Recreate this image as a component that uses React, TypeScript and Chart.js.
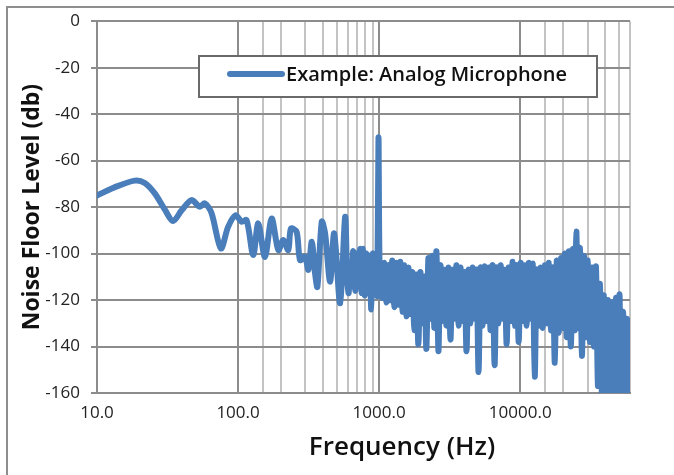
import React, { useEffect, useRef } from 'react';
import { Chart, registerables } from 'chart.js';

Chart.register(...registerables);

// ---- Data ----
const frequencyHz: number[] = [
  10, 13.3, 18.5, 21.8, 25.6, 30.2, 34.6, 39.7, 46.7, 53.5, 58.1, 64.8, 75.5, 85, 96,
  106, 115, 128, 139, 155, 173, 193, 209, 227, 237, 260, 275, 298, 315, 333,
  351, 365, 392, 414, 449, 480, 529, 574, 593, 608, 623, 639, 655, 676, 699,
  716, 734, 752, 771, 790, 810, 837, 858, 879, 901, 923, 946, 969, 989, 1010,
  1052, 1087, 1123, 1160, 1199, 1239, 1280, 1323, 1367, 1412, 1459, 1508, 1558, 1610, 1664,
  1719, 1776, 1835, 1896, 1959, 2025, 2092, 2162, 2234, 2308, 2385, 2464, 2546, 2631, 2719,
  2809, 2903, 3000, 3099, 3203, 3309, 3419, 3533, 3651, 3772, 3898, 4028, 4162, 4300, 4443,
  4591, 4744, 4902, 5065, 5234, 5408, 5588, 5774, 5966, 6165, 6370, 6582, 6801, 7028, 7262,
  7503, 7753, 8011, 8278, 8554, 8838, 9133, 9437, 9751, 10075, 10411, 10758, 11116, 11486, 11869,
  12264, 12672, 13094, 13530, 13981, 14446, 14927, 15424, 15938, 16469, 17017, 17584, 18169, 18774, 19399,
  20045, 20713, 21402, 22115, 22851, 23612, 24398, 25000, 25630, 26480, 27360, 28270, 29210, 30180, 31190,
  32230, 33300, 34410, 35560, 36740, 37960, 39230, 40540, 41890, 43280, 44720, 46210, 47750, 49340, 50550,
  51830, 53550, 55340, 57180, 59080, 60000,
];

const noiseFloorDb: number[] = [
  -75, -71.5, -68.6, -69.6, -74, -81, -86, -81.5, -77, -79.8, -78.4, -82.5, -97.8, -88.5, -83.5,
  -86.3, -85.6, -100.6, -87, -101.4, -84.9, -98.5, -94.2, -98.5, -89.2, -90.6, -102.8, -101.4, -107, -94.9,
  -108.4, -114.3, -86.3, -91.3, -112.1, -91.3, -121.4, -84.2, -110, -117, -104, -112, -99, -116, -100,
  -114, -98, -117, -98, -118, -100, -116, -101, -124, -100, -113, -104, -118, -50, -110,
  -119, -104, -121, -105, -120, -103, -123, -104, -122, -103.5, -125, -105, -127, -106, -126,
  -108, -133, -109, -139, -108, -130, -110, -141, -102, -128, -101, -132, -99, -142, -105,
  -129, -107, -131, -106, -137, -107, -128, -105, -131, -106, -129, -108, -142, -107, -130,
  -106, -128, -107, -151, -106, -131, -105.5, -129, -106, -133, -105, -148, -106, -130, -105,
  -128, -107, -139, -106, -129, -103.5, -131, -105, -138, -104, -129, -105, -131, -104, -128,
  -104.5, -153, -107, -131, -106, -132, -105, -130, -104, -133, -106, -147, -103, -134, -102,
  -132, -100, -136, -99, -140, -98, -133, -90.5, -132, -97.5, -144, -101, -136, -103, -138,
  -106, -140, -105.5, -157, -113, -162, -118, -165, -120, -165, -121, -165, -119, -165, -117.5,
  -165, -125, -165, -128, -165, -130,
];

const seriesName = 'Example: Analog Microphone';
const xAxisTitle = 'Frequency (Hz)';
const yAxisTitle = 'Noise Floor Level (db)';
const xMin = 10;
const xMax = 60000;
const yMin = -160;
const yMax = 0;
const yStep = 20;

const FONT = '"Open Sans", Lato, sans-serif';
const LINE_COLOR = '#4a7ebb';
const MAJOR_GRID = '#8c8c8c';
const MINOR_GRID = '#c3c3c3';

function isDecade(v: number): boolean {
  const l = Math.log10(v);
  return Math.abs(l - Math.round(l)) < 1e-9;
}

export default function App() {
  const ref = useRef<HTMLCanvasElement | null>(null);

  useEffect(() => {
    if (!ref.current) return;

    const decor = {
      id: 'decor',
      beforeDraw(chart: any) {
        const ctx = chart.ctx;
        ctx.save();
        ctx.fillStyle = '#ffffff';
        ctx.fillRect(0, 0, chart.width, chart.height);
        ctx.strokeStyle = '#8e8e8e';
        ctx.lineWidth = 2;
        ctx.strokeRect(7, 7, chart.width + 40, chart.height + 40);
        ctx.restore();
      },
      afterDraw(chart: any) {
        const ctx = chart.ctx;
        ctx.save();
        // legend box
        ctx.fillStyle = '#ffffff';
        ctx.fillRect(199, 56, 398, 41);
        ctx.strokeStyle = '#6a6a6a';
        ctx.lineWidth = 2;
        ctx.strokeRect(199, 56, 398, 41);
        ctx.strokeStyle = LINE_COLOR;
        ctx.lineWidth = 6;
        ctx.lineCap = 'round';
        ctx.beginPath();
        ctx.moveTo(230, 74);
        ctx.lineTo(282, 74);
        ctx.stroke();
        ctx.fillStyle = '#111111';
        ctx.font = `600 20px ${FONT}`;
        ctx.textAlign = 'left';
        ctx.textBaseline = 'middle';
        ctx.fillText(seriesName, 286, 75);
        // x axis title
        ctx.font = `600 26px ${FONT}`;
        ctx.textAlign = 'center';
        ctx.fillText(xAxisTitle, 402, 448);
        ctx.restore();
      },
    };

    const chart = new Chart(ref.current, {
      type: 'line',
      data: {
        datasets: [
          {
            label: seriesName,
            data: frequencyHz.map((f, i) => ({ x: f, y: noiseFloorDb[i] })),
            borderColor: LINE_COLOR,
            backgroundColor: LINE_COLOR,
            borderWidth: 6,
            pointRadius: 0,
            tension: 0.3,
            fill: false,
            borderCapStyle: 'round',
            borderJoinStyle: 'round',
          },
        ],
      },
      options: {
        animation: false,
        responsive: false,
        layout: { padding: { top: 21, right: 44, left: 0, bottom: 0 } },
        plugins: { legend: { display: false }, tooltip: { enabled: false } },
        scales: {
          x: {
            type: 'logarithmic',
            min: xMin,
            max: xMax,
            afterFit(s: any) {
              s.height = 82;
            },
            grid: {
              drawTicks: false,
              lineWidth: 2,
              color: (c: any) => {
                const v = c.tick ? c.tick.value : 0;
                if (isDecade(v)) return MAJOR_GRID;
                if ((v > 100 && v < 1000) || v > 10000) return MINOR_GRID;
                return 'rgba(0,0,0,0)';
              },
            },
            border: { color: MAJOR_GRID, width: 2 },
            ticks: {
              autoSkip: false,
              maxRotation: 0,
              padding: 10,
              color: '#222',
              font: { family: FONT, size: 17 },
              callback: (v: any) => (isDecade(Number(v)) ? Number(v).toFixed(1) : ''),
            },
          },
          y: {
            min: yMin,
            max: yMax,
            afterFit(s: any) {
              s.width = 97;
            },
            grid: { color: MAJOR_GRID, lineWidth: 2, tickLength: 6 },
            border: { color: MAJOR_GRID, width: 2 },
            ticks: {
              stepSize: yStep,
              padding: 11,
              color: '#222',
              font: { family: FONT, size: 17 },
            },
            title: {
              display: true,
              text: yAxisTitle,
              color: '#111',
              font: { family: FONT, size: 23, weight: 'bold' },
              padding: { top: 19, bottom: 0 },
            },
          },
        },
      },
      plugins: [decor],
    } as any);

    return () => chart.destroy();
  }, []);

  return (
    <div style={{ position: 'absolute', left: 0, top: 0, width: 674, height: 475, background: '#fff' }}>
      <canvas ref={ref} width={674} height={475} style={{ display: 'block' }} />
    </div>
  );
}
